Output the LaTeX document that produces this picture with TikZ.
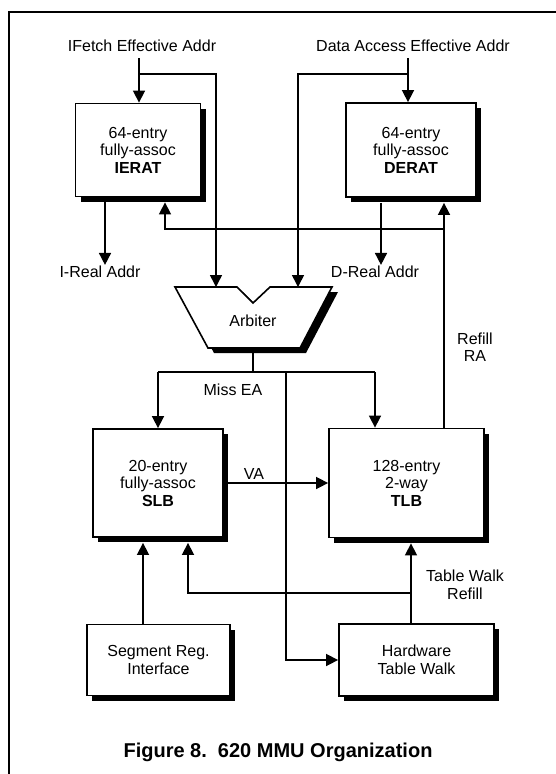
\documentclass[tikz,border=0pt]{standalone}
\usepackage{fontspec}
\setmainfont{Liberation Sans}
\usetikzlibrary{arrows.meta,shadows,calc}
\tikzset{
  lw/.style={line width=1.6pt},
  arr/.style={lw,-{Triangle[length=12pt,width=12pt]}},
  ln/.style={lw},
  box/.style={draw,line width=1.8pt,fill=white,align=center,inner sep=0pt,
    font=\fontsize{16}{17.5}\selectfont,
    drop shadow={shadow xshift=5pt,shadow yshift=-5pt,opacity=1,fill=black}},
  lbl/.style={inner sep=1pt,align=center,font=\fontsize{16}{17.5}\selectfont},
  nm/.style={font=\bfseries}
}
\begin{document}
\begin{tikzpicture}[x=1pt,y=-1pt]
\useasboundingbox (0,0) rectangle (556,774);
% frame
\draw[line width=1.6pt] (9,774) -- (9,12) -- (556,12);

% top labels
\node[lbl] (ifl) at (142,46) {IFetch Effective Addr};
\node[lbl] (dfl) at (413,46) {Data Access Effective Addr};

% boxes
\node[box,minimum width=125pt,minimum height=93pt] (ierat) at (138,150)
  {64-entry\\fully-assoc\\\textbf{IERAT}};
\node[box,minimum width=130pt,minimum height=94pt] (derat) at (411,150)
  {64-entry\\fully-assoc\\\textbf{DERAT}};
\node[box,minimum width=130pt,minimum height=108pt] (slb) at (158,483)
  {20-entry\\fully-assoc\\\textbf{SLB}};
\node[box,minimum width=155pt,minimum height=109pt] (tlb) at (406.5,483)
  {128-entry\\2-way\\\textbf{TLB}};
\node[box,minimum width=143pt,minimum height=71pt] (seg) at (158.5,660)
  {Segment Reg.\\Interface};
\node[box,minimum width=155pt,minimum height=72pt] (htw) at (416.5,660)
  {Hardware\\Table Walk};

% arbiter
\fill[black,shift={(6,5)}] (175,287) -- (237,287) -- (253,303) -- (270,287) -- (332,287) -- (300,348) -- (208,348) -- cycle;
\draw[line width=1.6pt,fill=white] (175,287) -- (237,287) -- (253,303) -- (270,287) -- (332,287) -- (300,348) -- (208,348) -- cycle;
\node[lbl] (arb) at (253,321) {Arbiter};
\coordinate (arbL) at (216,287);
\coordinate (arbR) at (298,287);
\coordinate (arbB) at (253,350);

% other labels
\node[lbl] (ireal) at (100,272) {I-Real Addr};
\node[lbl] (dreal) at (375,272) {D-Real Addr};
\node[lbl] (miss) at (233,390) {Miss EA};
\node[lbl] (va) at (254,474) {VA};
\node[lbl] (rfl) at (475,347) {Refill\\RA};
\node[lbl] (twl) at (465,585) {Table Walk\\Refill};
\node[inner sep=0pt,font=\fontsize{20}{22}\selectfont\bfseries] (cap) at (278,752)
  {Figure 8.\ \ 620 MMU Organization};

% coordinates
\coordinate (ia) at (139,58);
\coordinate (ij) at (139,74);
\coordinate (da) at (408,58);
\coordinate (dj) at (408,74);
\coordinate (irx) at (105,0);
\coordinate (drx) at (381,0);
\coordinate (rfI) at (165,229);
\coordinate (rfD) at (444,229);
\coordinate (mL) at (158,372);
\coordinate (mC) at (253,372);
\coordinate (mH) at (286,372);
\coordinate (mR) at (375,372);
\coordinate (sx) at (143,0);
\coordinate (tw) at (411,593);
\coordinate (twL) at (188,593);

% connectors
\draw[arr] (ia) -- (ia |- ierat.north);
\draw[arr] (ij) -| (arbL);
\draw[arr] (da) -- (da |- derat.north);
\draw[arr] (dj) -| (arbR);
\draw[arr] ($(ierat.south -| irx)+(0,5)$) -- (ireal.north -| irx);
\draw[arr] ($(derat.south -| drx)+(0,5)$) -- (dreal.north -| drx);
\draw[arr] (tlb.north -| rfD) -- ($(derat.south -| rfD)+(0,5)$);
\draw[arr] (rfD) -| ($(ierat.south -| rfI)+(0,5)$);
\draw[ln] (arbB) -- (mC);
\draw[ln] (mL) -- (mR);
\draw[arr] (mL) -- (slb.north);
\draw[arr] (mR) -- (mR |- tlb.north);
\draw[arr] (mH) |- (htw.west);
\draw[arr] (slb.east) -- (tlb.west |- slb.east);
\draw[arr] (seg.north -| sx) -- ($(slb.south -| sx)+(0,5)$);
\draw[arr] (htw.north -| tw) -- ($(tlb.south -| tw)+(0,5)$);
\draw[arr] (tw) -| ($(slb.south -| twL)+(0,5)$);
\end{tikzpicture}
\end{document}
